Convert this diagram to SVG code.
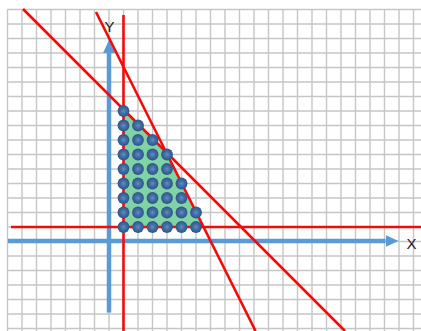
<svg xmlns="http://www.w3.org/2000/svg" width="421" height="331" viewBox="0 0 421 331">
<defs>
<style>
.grid{stroke:#c6c6c6;stroke-width:1.4;fill:none}
.axis{stroke:#5b9bd5;stroke-width:4.5;fill:none}
.red{stroke:#f50a0a;stroke-width:2.6;fill:none;stroke-linecap:butt}
.lbl{font-family:"Liberation Sans",Arial,sans-serif;font-size:15px;fill:#222;text-anchor:middle}
.dot{fill:url(#dg)}
</style>
<radialGradient id="dg" cx="0.5" cy="0.5" r="0.5">
<stop offset="0" stop-color="#5f90cc"/>
<stop offset="0.4" stop-color="#4672a8"/>
<stop offset="1" stop-color="#2f5485"/>
</radialGradient>
<marker id="ah" markerUnits="userSpaceOnUse" markerWidth="13" markerHeight="12" refX="0" refY="6" orient="auto" viewBox="0 0 13 12">
<path d="M0,0 L13,6 L0,12 z" fill="#5b9bd5"/>
</marker>
</defs>
<rect width="421" height="331" fill="#ffffff"/>
<g id="grid" class="grid">
<path d="M7.5,9.3V331M22,9.3V331M36.5,9.3V331M51,9.3V331M65.5,9.3V331M80,9.3V331M94.5,9.3V331M109,9.3V331M123.5,9.3V331M138,9.3V331M152.5,9.3V331M167,9.3V331M181.5,9.3V331M196,9.3V331M210.5,9.3V331M225,9.3V331M239.5,9.3V331M254,9.3V331M268.5,9.3V331M283,9.3V331M297.5,9.3V331M312,9.3V331M326.5,9.3V331M341,9.3V331M355.5,9.3V331M370,9.3V331M384.5,9.3V331M399,9.3V331M413.5,9.3V331"/>
<path d="M7.3,9.5H421M7.3,24H421M7.3,38.5H421M7.3,53H421M7.3,67.5H421M7.3,82H421M7.3,96.5H421M7.3,111H421M7.3,125.5H421M7.3,140H421M7.3,154.5H421M7.3,169H421M7.3,183.5H421M7.3,198H421M7.3,212.5H421M7.3,227H421M7.3,241.5H421M7.3,256H421M7.3,270.5H421M7.3,285H421M7.3,299.5H421M7.3,314H421M7.3,328.5H421"/>
</g>
<g id="region">
<polygon points="123.5,109.2 166,151.7 203.6,227 123.5,227" fill="#7fd3a7"/>
</g>
<g id="axes">
<line class="axis" x1="109" y1="312.5" x2="109" y2="53" marker-end="url(#ah)"/>
<line class="axis" x1="8" y1="241" x2="385.5" y2="241" marker-end="url(#ah)"/>
<text class="lbl" x="109.5" y="31.5">Y</text>
<text class="lbl" x="411.5" y="248.5">X</text>
</g>
<g id="constraints">
<line class="red" x1="123.5" y1="15" x2="123.5" y2="331"/>
<line class="red" x1="11" y1="227" x2="421" y2="227"/>
<line class="red" x1="23" y1="9" x2="345" y2="331"/>
<line class="red" x1="96" y1="12" x2="255.6" y2="331"/>
</g>
<g id="points">
<circle class="dot" cx="123.5" cy="111" r="5.9"/>
<circle class="dot" cx="123.5" cy="125.5" r="5.9"/><circle class="dot" cx="138" cy="125.5" r="5.9"/>
<circle class="dot" cx="123.5" cy="140" r="5.9"/><circle class="dot" cx="138" cy="140" r="5.9"/><circle class="dot" cx="152.5" cy="140" r="5.9"/>
<circle class="dot" cx="123.5" cy="154.5" r="5.9"/><circle class="dot" cx="138" cy="154.5" r="5.9"/><circle class="dot" cx="152.5" cy="154.5" r="5.9"/><circle class="dot" cx="167" cy="154.5" r="5.9"/>
<circle class="dot" cx="123.5" cy="169" r="5.9"/><circle class="dot" cx="138" cy="169" r="5.9"/><circle class="dot" cx="152.5" cy="169" r="5.9"/><circle class="dot" cx="167" cy="169" r="5.9"/>
<circle class="dot" cx="123.5" cy="183.5" r="5.9"/><circle class="dot" cx="138" cy="183.5" r="5.9"/><circle class="dot" cx="152.5" cy="183.5" r="5.9"/><circle class="dot" cx="167" cy="183.5" r="5.9"/><circle class="dot" cx="181.5" cy="183.5" r="5.9"/>
<circle class="dot" cx="123.5" cy="198" r="5.9"/><circle class="dot" cx="138" cy="198" r="5.9"/><circle class="dot" cx="152.5" cy="198" r="5.9"/><circle class="dot" cx="167" cy="198" r="5.9"/><circle class="dot" cx="181.5" cy="198" r="5.9"/>
<circle class="dot" cx="123.5" cy="212.5" r="5.9"/><circle class="dot" cx="138" cy="212.5" r="5.9"/><circle class="dot" cx="152.5" cy="212.5" r="5.9"/><circle class="dot" cx="167" cy="212.5" r="5.9"/><circle class="dot" cx="181.5" cy="212.5" r="5.9"/><circle class="dot" cx="196" cy="212.5" r="5.9"/>
<circle class="dot" cx="123.5" cy="227" r="5.9"/><circle class="dot" cx="138" cy="227" r="5.9"/><circle class="dot" cx="152.5" cy="227" r="5.9"/><circle class="dot" cx="167" cy="227" r="5.9"/><circle class="dot" cx="181.5" cy="227" r="5.9"/><circle class="dot" cx="196" cy="227" r="5.9"/>
</g>
</svg>
